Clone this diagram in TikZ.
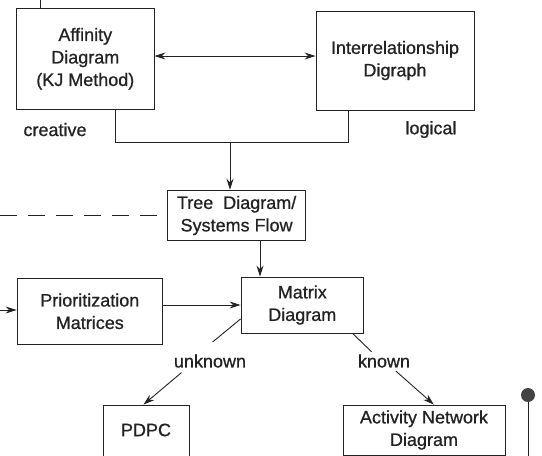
\documentclass[tikz,border=0pt]{standalone}
\usepackage{fontspec}
\setmainfont{Liberation Sans}[UprightFeatures={FakeBold=0.8}]
\usetikzlibrary{arrows.meta}
\definecolor{ink}{HTML}{222222}
\begin{document}
\begin{tikzpicture}[x=1pt,y=-1pt,
  box/.style={draw=ink, line width=0.9pt, align=center, inner sep=0pt,
    text=ink, font=\fontsize{18}{22.5}\selectfont},
  lbl/.style={text=ink, inner sep=0pt, font=\fontsize{18}{22.5}\selectfont},
  conn/.style={draw=ink, line width=0.9pt},
  tip/.style={-{Stealth[length=11pt,width=7pt]}},
  twotip/.style={{Stealth[length=11pt,width=7pt]}-{Stealth[length=11pt,width=7pt]}},
]
\useasboundingbox (0,0) rectangle (542,456);
\clip (0,0) rectangle (542,456);

% boxes
\node[box, minimum width=137.4pt, minimum height=100.4pt] (aff) at (85.3,58.8)
  {Affinity\\Diagram\\(KJ Method)};
\node[box, minimum width=158pt, minimum height=99pt] (inter) at (395,60.5)
  {Interrelationship\\Digraph};
\node[box, minimum width=138pt, minimum height=50.6pt] (tree) at (236.6,215.5)
  {Tree\ \ Diagram/\\Systems Flow};
\node[box, minimum width=122.6pt, minimum height=56pt] (matrix) at (302.3,305)
  {Matrix\\Diagram};
\node[box, minimum width=145.5pt, minimum height=65.4pt] (prior) at (89.8,311.3)
  {Prioritization\\Matrices};
\node[box, minimum width=86pt, minimum height=70pt] (pdpc) at (146,440) {};
\node[lbl] (pdpct) at (146,430) {PDPC};
\node[box, minimum width=162pt, minimum height=50pt] (act) at (424,430)
  {Activity Network\\Diagram};

% side labels
\node[lbl] (creative) at (55,129.6) {creative};
\node[lbl] (logical) at (431,129.6) {logical};
\node[lbl] (unknown) at (210,361) {unknown};
\node[lbl] (known) at (384,361) {known};

% free ends and bends
\coordinate (topin) at (40,0);
\coordinate (leftin) at (0,310);
\coordinate (dashin) at (0,215.7);
\coordinate (jL) at (115,142);
\coordinate (jR) at (348,142);
\coordinate (jM) at (230,142);
\coordinate (u2) at (212.6,342);
\coordinate (u3) at (181.5,372.6);
\coordinate (k2) at (371.6,351.8);
\coordinate (k3) at (395.8,371);

% connectors
\draw[conn] (topin) -- (topin |- aff.north);
\draw[conn, twotip] (aff.east |- 0,56) -- (inter.west |- 0,56);
\draw[conn] (aff.south -| jL) -- (jL) -- (jR) -- (inter.south -| jR);
\draw[conn, tip] (jM) -- (tree.north -| jM);
\draw[conn, dash pattern=on 17pt off 11pt] (dashin) -- (tree.west |- dashin);
\draw[conn, tip] (tree.south -| 260,0) -- (matrix.north -| 260,0);
\draw[conn, tip] (prior.east |- 0,305) -- (matrix.west |- 0,305);
\draw[conn, tip] (leftin) -- (prior.west |- leftin);
\draw[conn] (matrix.west |- 0,319) -- (u2);
\draw[conn, tip] (u3) -- (pdpc.north -| 143.5,0);
\draw[conn] (matrix.south -| 352.6,0) -- (k2);
\draw[conn, tip] (k3) -- (act.north -| 433.8,0);

% pole on the right
\node[circle, fill=ink!85, minimum size=14pt, inner sep=0pt] (pole) at (528,395) {};
\coordinate (polefoot) at (528,456);
\draw[conn] (pole.south) -- (polefoot);
\end{tikzpicture}
\end{document}
